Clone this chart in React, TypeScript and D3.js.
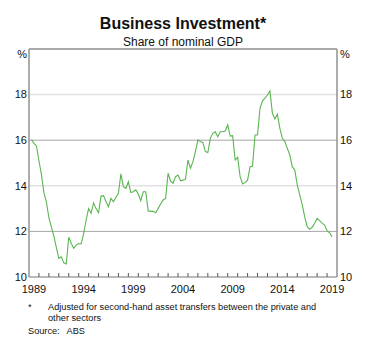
import React from "react";
import * as d3 from "d3";

const startYear = 1989;
const values: number[] = [
  16.03, 15.86, 15.75, 15.1, 14.5, 13.7, 13.3, 12.6, 12.2, 11.8,
  11.3, 10.82, 10.89, 10.62, 10.57, 11.74, 11.48, 11.26, 11.4, 11.47,
  11.45, 11.9, 12.5, 13.0, 12.8, 13.25, 13.0, 12.82, 13.55, 13.57,
  13.3, 13.08, 13.45, 13.3, 13.5, 13.67, 14.52, 13.96, 13.89, 14.18,
  13.7, 13.74, 13.82, 13.64, 13.35, 13.74, 13.74, 12.89, 12.89, 12.88,
  12.82, 13.01, 13.2, 13.38, 13.45, 14.55, 14.2, 14.11, 14.4, 14.47,
  14.22, 14.25, 14.28, 15.13, 14.77, 15.06, 15.5, 16.01, 15.94, 15.9,
  15.5, 15.46, 16.08, 16.3, 16.37, 16.15, 16.37, 16.37, 16.4, 16.67,
  16.18, 16.2, 15.13, 15.25, 14.4, 14.08, 14.15, 14.25, 14.84, 14.87,
  16.23, 16.23, 17.4, 17.73, 17.84, 17.98, 18.16, 17.18, 16.93, 17.14,
  16.52, 16.08, 15.94, 15.64, 15.35, 14.84, 14.69, 14.04, 13.6, 13.16,
  12.64, 12.21, 12.09, 12.18, 12.36, 12.57, 12.47, 12.36, 12.28, 12.03,
  11.94, 11.77,
];
const yTicks = [10, 12, 14, 16, 18];
const darkGrid = [12, 16];
const lightGrid = [14, 18];
const xLabels = [1989, 1994, 1999, 2004, 2009, 2014, 2019];
const yearTicks = d3.range(1990, 2020);

const W = 380, H = 339;
const L = 29, R = 337, T = 49, B = 277;
const FONT = "'Liberation Sans', Arial, sans-serif";

export default function App() {
  const x = d3.scaleLinear().domain([1989, 2020]).range([L, R]);
  const y = d3.scaleLinear().domain([10, 20]).range([B, T]);
  const pts = values.map((v, i) => [startYear + (i + 1) / 4, v] as [number, number]);
  const line = d3.line<[number, number]>().x(d => x(d[0])).y(d => y(d[1]));
  return (
    <svg width={W} height={H} style={{ position: "absolute", left: 0, top: 0, background: "#fff" }} fontFamily={FONT}>
      <rect x={0} y={0} width={W} height={H} fill="#fff" />
      <text x={183} y={29} textAnchor="middle" fontSize={16} fontWeight="bold" fill="#111">Business Investment*</text>
      <text x={183} y={45.5} textAnchor="middle" fontSize={12} fill="#111">Share of nominal GDP</text>
      {lightGrid.map(v => (
        <line key={"lg" + v} x1={L} x2={R} y1={y(v)} y2={y(v)} stroke="#e2e2e2" strokeWidth={1.5} />
      ))}
      {darkGrid.map(v => (
        <line key={"dg" + v} x1={L} x2={R} y1={y(v)} y2={y(v)} stroke="#a6a6a6" strokeWidth={1} />
      ))}
      {yearTicks.map(t => (
        <line key={"t" + t} x1={x(t)} x2={x(t)} y1={B} y2={B - 4} stroke="#555" strokeWidth={1} />
      ))}
      <path d={line(pts) || ""} fill="none" stroke="#5bb552" strokeWidth={1.1} />
      <line x1={L} x2={R} y1={T} y2={T} stroke="#555" strokeWidth={1.2} />
      <line x1={L} x2={R} y1={B} y2={B} stroke="#777" strokeWidth={1.2} />
      <line x1={L} x2={L} y1={T} y2={B} stroke="#999" strokeWidth={1.6} />
      <line x1={R} x2={R} y1={T} y2={B} stroke="#999" strokeWidth={1.6} />
      {yTicks.map(v => (
        <g key={"yl" + v}>
          <text x={27} y={y(v)} dy="0.35em" textAnchor="end" fontSize={11} fill="#111">{v}</text>
          <text x={340} y={y(v)} dy="0.35em" textAnchor="start" fontSize={11} fill="#111">{v}</text>
        </g>
      ))}
      <text x={27} y={58} textAnchor="end" fontSize={11} fill="#111">%</text>
      <text x={340} y={58} textAnchor="start" fontSize={11} fill="#111">%</text>
      {xLabels.map(yr => (
        <text key={"xl" + yr} x={x(yr + 0.5)} y={293} textAnchor="middle" fontSize={11} fill="#111">{yr}</text>
      ))}
      <text x={28} y={310} fontSize={9.2} fill="#111">*</text>
      <text x={48} y={310} fontSize={9.2} fill="#111">Adjusted for second-hand asset transfers between the private and</text>
      <text x={48} y={321} fontSize={9.2} fill="#111">other sectors</text>
      <text x={28} y={334} fontSize={9.2} fill="#111">Source:</text>
      <text x={66.5} y={334} fontSize={9.2} fill="#111">ABS</text>
    </svg>
  );
}
